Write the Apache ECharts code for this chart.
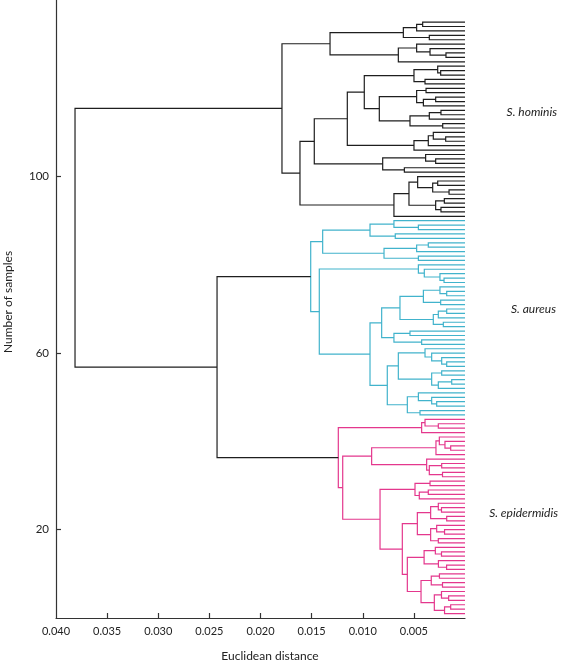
<!DOCTYPE html>
<html>
<head>
<meta charset="utf-8">
<script src="https://cdn.jsdelivr.net/npm/echarts@6/dist/echarts.min.js"></script>
<style>
html,body{margin:0;padding:0;background:#fff;}
#chart{width:567px;height:661px;}
</style>
</head>
<body>
<div id="chart"></div>
<script>
// ---- data (merge heights in units of 0.001 Euclidean distance; 0 = leaf) ----
const xTickValues = [0.040, 0.035, 0.030, 0.025, 0.020, 0.015, 0.010, 0.005];
const yTickValues = [20, 60, 100];
const speciesNames = ['S. hominis', 'S. aureus', 'S. epidermidis'];
const totalSamples = 135;

const hominisTree = [17.90,
  [13.20,
    [6.03, [4.73, [4.14, 0, 0], 0], [3.49, 0, 0]],
    [6.52, [4.73, 0, [3.42, 0, [1.86, 0, 0]]], 0]
  ],
  [16.14,
    [14.74,
      [11.51,
        [9.85,
          [4.99, [2.67, 0, [2.38, 0, 0]], [3.91, 0, 0]],
          [8.38, [4.73, [3.81, 0, 0], [4.07, [2.87, 0, 0], 0]], [5.38, [3.49, [2.35, 0, 0], 0], [2.18, 0, 0]]]
        ],
        [4.99, [3.59, [3.10, 0, [1.89, 0, 0]], 0], 0]
      ],
      [8.05, [3.85, 0, [2.87, 0, 0]], [5.93, 0, 0]]
    ],
    [6.95, [5.48, [4.63, 0, [3.16, [2.67, 0, 0], [1.56, 0, 0]]], [2.87, [2.02, 0, 0], [2.35, 0, 0]]], 0]
  ]
];

const aureusTree = [15.09,
  [13.92,
    [9.29, [6.95, 0, [4.56, 0, 0]], [6.82, 0, 0]],
    [7.92, [4.73, [3.59, 0, 0], 0], [4.56, 0, 0]]
  ],
  [14.25,
    [4.56, 0, [3.98, 0, [2.45, 0, [2.05, 0, 0]]]],
    [9.29,
      [8.15,
        [6.36, [4.07, [2.45, 0, [1.79, 0, 0]], [2.38, 0, 0]], [3.10, [2.61, [1.79, 0, 0], 0], [2.12, 0, 0]]],
        [6.95, [5.38, 0, 0], [4.24, 0, 0]]
      ],
      [7.60,
        [6.52, [3.91, 0, [3.26, 0, [2.28, 0, [1.79, 0, 0]]]], [3.26, [2.28, 0, 0], [2.61, [1.30, 0, 0], 0]]],
        [5.64, [4.56, 0, [3.26, 0, [2.77, 0, 0]]], [4.40, 0, 0]]
      ]
    ]
  ]
];

const epidermidisTree = [12.39,
  [4.24, [3.91, 0, [2.61, 0, 0]], 0],
  [11.96,
    [9.13,
      [2.84, [2.51, 0, [1.96, 0, [1.40, 0, 0]]], 0],
      [3.75, 0, [3.49, [2.28, 0, 0], [2.20, 0, 0]]]
    ],
    [8.31,
      [4.89, [3.42, 0, 0], [4.47, [3.59, 0, 0], 0]],
      [6.13,
        [4.66,
          [3.36, [2.61, 0, [2.30, 0, 0]], [1.79, 0, 0]],
          [3.36, [2.77, 0, [2.00, 0, 0]], [2.61, 0, 0]]
        ],
        [5.64,
          [4.00, [2.90, 0, [2.30, 0, 0]], [2.60, 0, [1.80, 0, 0]]],
          [4.30, [3.30, [2.50, 0, 0], [2.20, 0, 0]], [3.00, [2.30, 0, [1.60, 0, 0]], [2.00, [1.40, 0, 0], 0]]]
        ]
      ]
    ]
  ]
];

// aureus+epidermidis join, then global root
const joinHeights = [24.25, 38.14];

// ---- styles ----
const BLACK = '#1e1e1e', CYAN = '#41b3cc', PINK = '#e4378d';
const FONT = 'Lato, "Noto Sans", sans-serif';

// ---- build dendrogram links ----
const segs = [];
let nextLeaf = totalSamples;
const S = 0.001;
function link(a, b, h, color) {
  segs.push({
    coords: [[a.h * S, a.y], [h * S, a.y], [h * S, b.y], [b.h * S, b.y]],
    lineStyle: { color: color }
  });
  return { h: h, y: (a.y + b.y) / 2 };
}
function walk(node, color) {
  if (node === 0) return { h: 0, y: nextLeaf-- };
  const a = walk(node[1], color);
  const b = walk(node[2], color);
  return link(a, b, node[0], color);
}
const hom = walk(hominisTree, BLACK);
const aur = walk(aureusTree, CYAN);
const epi = walk(epidermidisTree, PINK);
const ae = link(aur, epi, joinHeights[0], BLACK);
link(hom, ae, joinHeights[1], BLACK);

const chart = echarts.init(document.getElementById('chart'), null, { renderer: 'canvas' });
chart.setOption({
  animation: false,
  backgroundColor: '#fff',
  grid: { left: 56, right: 102, top: 0, bottom: 43, containLabel: false },
  xAxis: {
    type: 'value', inverse: true, min: 0, max: 0.04,
    axisLine: { onZero: false, lineStyle: { color: '#333', width: 1.2 } },
    axisTick: { inside: true, length: 5, customValues: xTickValues.slice(1), lineStyle: { color: '#333', width: 1.2 } },
    axisLabel: { customValues: xTickValues, margin: 8, color: '#222', fontSize: 11, fontFamily: FONT,
      formatter: v => v.toFixed(3) },
    splitLine: { show: false }
  },
  yAxis: {
    type: 'value', min: 0, max: 140, position: 'left',
    axisLine: { show: true, onZero: false, lineStyle: { color: '#333', width: 1.2 } },
    axisTick: { show: true, inside: true, length: 5, customValues: yTickValues, lineStyle: { color: '#333', width: 1.2 } },
    axisLabel: { customValues: yTickValues, margin: 7, color: '#222', fontSize: 11.5, fontFamily: FONT },
    splitLine: { show: false }
  },
  series: [{
    type: 'lines', coordinateSystem: 'cartesian2d', polyline: true, silent: true,
    lineStyle: { width: 1.2, opacity: 1 },
    data: segs
  }],
  graphic: [
    { type: 'text', x: 8, y: 302, rotation: Math.PI / 2,
      style: { text: 'Number of samples', fill: '#222', font: '12px ' + FONT, align: 'center', verticalAlign: 'middle' } },
    { type: 'text', x: 270, y: 656, style: { text: 'Euclidean distance', fill: '#222', font: '12px ' + FONT, align: 'center', verticalAlign: 'middle' } },
    { type: 'text', x: 557, y: 112, style: { text: speciesNames[0], fill: '#222', font: 'italic 12px ' + FONT, align: 'right', verticalAlign: 'middle' } },
    { type: 'text', x: 556, y: 309, style: { text: speciesNames[1], fill: '#222', font: 'italic 12px ' + FONT, align: 'right', verticalAlign: 'middle' } },
    { type: 'text', x: 558, y: 513, style: { text: speciesNames[2], fill: '#222', font: 'italic 12px ' + FONT, align: 'right', verticalAlign: 'middle' } }
  ]
});
</script>
</body>
</html>
